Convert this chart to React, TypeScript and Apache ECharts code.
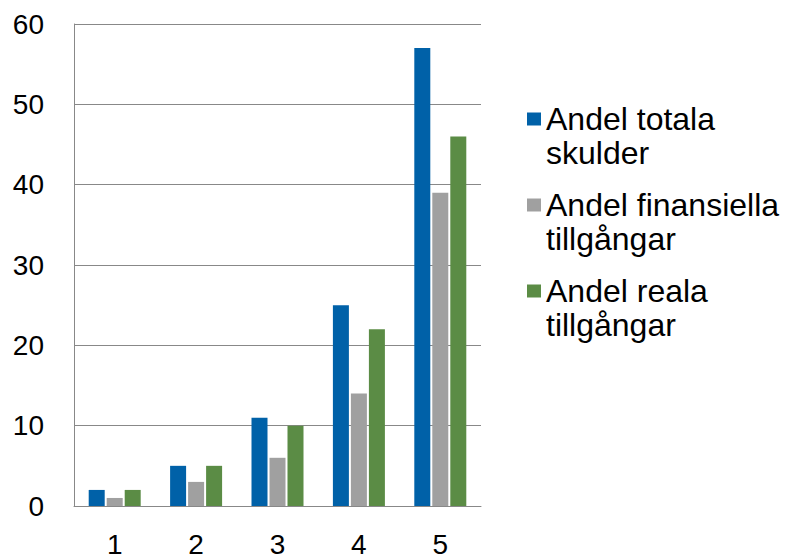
import React, { useEffect, useRef } from "react";
import * as echarts from "echarts";

const categories = ["1", "2", "3", "4", "5"];
const totalaSkulder = [2, 5, 11, 25, 57];
const finansiellaTillgangar = [1, 3, 6, 14, 39];
const realaTillgangar = [2, 5, 10, 22, 46];
const seriesNames = ["Andel totala skulder", "Andel finansiella tillgångar", "Andel reala tillgångar"];
const legendLabels: Record<string, string> = {
  "Andel totala skulder": "\nAndel totala\nskulder",
  "Andel finansiella tillgångar": "\nAndel finansiella\ntillgångar",
  "Andel reala tillgångar": "\nAndel reala\ntillgångar",
};
const colors = ["#0061A8", "#A0A0A0", "#5B8C45"];

export default function App() {
  const ref = useRef<HTMLDivElement>(null);
  useEffect(() => {
    if (!ref.current) return;
    const chart = echarts.init(ref.current, undefined, { renderer: "svg" });
    const font = "'Liberation Sans', Arial, sans-serif";
    const dataSets = [totalaSkulder, finansiellaTillgangar, realaTillgangar];
    chart.setOption({
      animation: false,
      color: colors,
      textStyle: { fontFamily: font },
      grid: { left: 74, right: 304, top: 24, bottom: 49, containLabel: false },
      legend: {
        orient: "vertical",
        left: 527,
        top: 68,
        padding: 0,
        itemGap: -16,
        itemWidth: 14,
        itemHeight: 13,
        icon: "rect",
        data: seriesNames,
        formatter: (name: string) => legendLabels[name] ?? name,
        textStyle: {
          fontSize: 32,
          fontFamily: font,
          color: "#000",
          lineHeight: 34,
        },
      },
      xAxis: {
        type: "category",
        data: categories,
        axisTick: { show: false },
        axisLine: { show: true, lineStyle: { color: "#888", width: 1 } },
        axisLabel: { fontSize: 28, color: "#000", margin: 24, fontFamily: font },
      },
      yAxis: {
        type: "value",
        min: 0,
        max: 60,
        interval: 10,
        axisTick: { show: false },
        axisLine: { show: true, lineStyle: { color: "#888", width: 1 } },
        splitLine: { show: true, lineStyle: { color: "#888", width: 1 } },
        axisLabel: { fontSize: 28, color: "#000", margin: 30, fontFamily: font },
      },
      series: seriesNames.map((name, i) => ({
        name,
        type: "bar",
        data: dataSets[i],
        barWidth: 16,
        barGap: "12.5%",
        itemStyle: { color: colors[i] },
      })),
    });
    return () => chart.dispose();
  }, []);
  return (
    <div
      ref={ref}
      style={{ position: "fixed", left: 0, top: 0, width: 785, height: 558, background: "#fff" }}
    />
  );
}
